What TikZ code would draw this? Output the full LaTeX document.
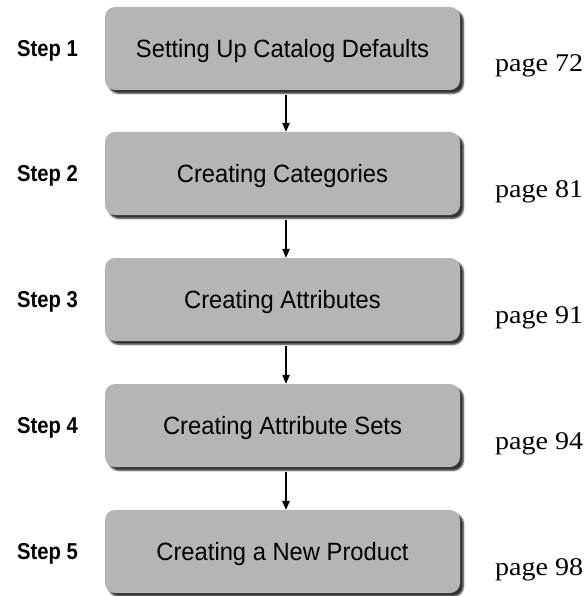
\documentclass[tikz,border=0pt]{standalone}
\usepackage{fontspec}
\setmainfont{Liberation Sans}
\newfontfamily\boxfont[FakeStretch=0.95]{Liberation Sans}
\newfontfamily\stepfont[FakeStretch=0.88]{Liberation Sans}
\newfontfamily\pagefont[FakeStretch=1.1]{Liberation Serif}
\usetikzlibrary{arrows.meta,shadows.blur}
\definecolor{boxgray}{RGB}{181,181,181}
\begin{document}
\begin{tikzpicture}[x=1pt,y=-1pt,
  stepbox/.style={rounded corners=10pt, fill=boxgray, minimum width=355pt,
    minimum height=83pt, inner sep=0pt, text height=18pt, text depth=0pt,
    font=\boxfont\fontsize{25}{29}\selectfont,
    blur shadow={shadow xshift=3.5pt, shadow yshift=-3.5pt, shadow opacity=80, shadow blur steps=4, shadow blur radius=1.5pt}},
  steplabel/.style={anchor=west, inner sep=0pt, text height=16.5pt, text depth=0pt,
    font=\stepfont\fontsize{23}{27}\selectfont\bfseries},
  pagelabel/.style={anchor=base west, inner sep=0pt, font=\pagefont\fontsize{25.5}{30}\selectfont},
  conn/.style={line width=1.2pt, -{Triangle[length=9pt,width=7.5pt]}}]
\useasboundingbox (0,0) rectangle (586,596);
\coordinate (ax) at (286,0);
\foreach \i/\y/\t/\p in {1/48.5/Setting Up Catalog Defaults/72,
                          2/173.5/Creating Categories/81,
                          3/299.5/Creating Attributes/91,
                          4/425.5/Creating Attribute Sets/94,
                          5/551.5/Creating a New Product/98}{
  \node[stepbox] (b\i) at (282.5,\y) {\t};
  \node[steplabel] (s\i) at (17,\y) {Step \i};
  \node[pagelabel] (p\i) at (495,\y+23.5) {page \p};
}
\foreach \a/\b in {1/2,2/3,3/4,4/5}{
  \draw[conn] ([yshift=-5pt]b\a.south -| ax) -- (b\b.north -| ax);
}
\end{tikzpicture}
\end{document}
